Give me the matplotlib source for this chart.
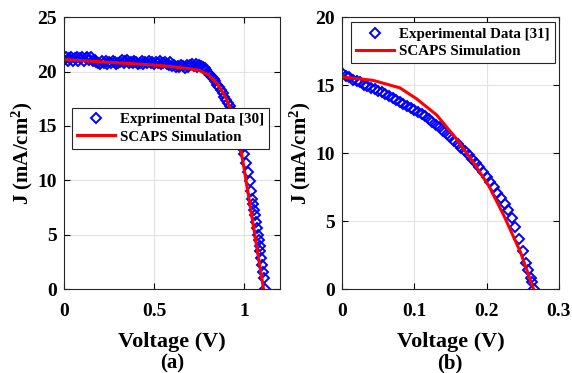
import matplotlib
matplotlib.use("Agg")
import matplotlib.pyplot as plt

plt.rcParams['font.family'] = ['Liberation Serif', 'DejaVu Serif']
plt.rcParams['font.weight'] = 'bold'
plt.rcParams['mathtext.fontset'] = 'custom'
plt.rcParams['mathtext.rm'] = 'Liberation Serif:bold'
plt.rcParams['mathtext.bf'] = 'Liberation Serif:bold'
plt.rcParams['mathtext.default'] = 'bf'

# ---- Panel (a) ----
va_exp = [0.00, 0.01, 0.02, 0.03, 0.04, 0.05, 0.06, 0.07, 0.08, 0.09,
          0.10, 0.11, 0.12, 0.13, 0.14, 0.15, 0.16, 0.17, 0.18, 0.19,
          0.20, 0.21, 0.22, 0.23, 0.24, 0.25, 0.26, 0.27, 0.28, 0.29,
          0.30, 0.31, 0.32, 0.33, 0.34, 0.35, 0.36, 0.37, 0.38, 0.39,
          0.40, 0.41, 0.42, 0.43, 0.44, 0.45, 0.46, 0.47, 0.48, 0.49,
          0.50, 0.51, 0.52, 0.53, 0.54, 0.55, 0.56, 0.57, 0.58, 0.59,
          0.60, 0.61, 0.62, 0.63, 0.64, 0.65, 0.66, 0.67, 0.68, 0.69,
          0.70, 0.71, 0.72, 0.73, 0.74, 0.75, 0.76, 0.77, 0.78, 0.79,
          0.80, 0.81, 0.82, 0.83, 0.84, 0.85, 0.86, 0.87, 0.88, 0.89,
          0.90, 0.91, 0.92, 0.93, 0.94, 0.95, 0.96, 0.97, 0.98,
          0.99, 1.00, 1.01, 1.02, 1.03, 1.04, 1.045, 1.05, 1.055, 1.06,
          1.065, 1.07, 1.075, 1.08, 1.085, 1.09, 1.095, 1.10, 1.105, 1.11, 1.117]
ja_exp = [21.1, 21.3, 21.0, 21.2, 21.3, 21.0, 21.2, 21.3, 21.0, 21.2,
          21.3, 21.0, 21.2, 21.3, 21.1, 21.3, 21.0, 21.1, 20.9, 20.8,
          20.7, 21.0, 20.8, 21.0, 20.7, 20.9, 20.8, 21.0, 20.9, 20.7,
          20.8, 20.9, 21.1, 20.8, 21.0, 21.1, 20.8, 20.9, 20.8, 21.0,
          20.9, 20.7, 20.8, 21.0, 20.7, 20.9, 20.8, 21.0, 20.8, 20.9,
          20.7, 20.9, 20.8, 21.0, 20.7, 20.8, 20.9, 20.7, 20.6, 20.9,
          20.5, 20.6, 20.4, 20.5, 20.4, 20.6, 20.5, 20.3, 20.6, 20.4,
          20.6, 20.7, 20.5, 20.7, 20.4, 20.6, 20.5, 20.4, 20.3, 20.1,
          19.9, 19.7, 19.5, 19.3, 19.1, 18.8, 18.6, 18.3, 18.0, 17.7,
          17.4, 17.1, 16.8, 16.4, 16.0, 15.5, 15.0, 14.4, 13.8,
          13.0, 12.4, 11.6, 10.8, 9.9, 9.0, 8.3, 7.8, 7.3, 6.8,
          6.2, 5.6, 5.0, 4.5, 4.0, 3.5, 2.9, 2.2, 1.6, 1.0, 0.0]
va_sim = [0.0, 0.1, 0.2, 0.3, 0.4, 0.5, 0.6, 0.7, 0.75, 0.8, 0.85, 0.88,
          0.9, 0.93, 0.95, 0.978, 1.0, 1.05, 1.107]
ja_sim = [21.1, 21.0, 20.9, 20.8, 20.7, 20.6, 20.45, 20.25, 20.1, 19.7,
          18.9, 18.1, 17.5, 16.3, 15.0, 13.1, 11.0, 5.9, 0.0]

# ---- Panel (b) ----
vb_exp = [0.000, 0.005, 0.010, 0.015, 0.020, 0.025, 0.030, 0.035, 0.040, 0.045,
          0.050, 0.055, 0.060, 0.065, 0.070, 0.075, 0.080, 0.085, 0.090, 0.095,
          0.100, 0.105, 0.110, 0.115, 0.120, 0.125, 0.130, 0.135, 0.140, 0.145,
          0.150, 0.155, 0.160, 0.165, 0.170, 0.175, 0.180, 0.185, 0.190, 0.195,
          0.200, 0.205, 0.210, 0.215, 0.220, 0.225, 0.230, 0.235, 0.240, 0.245,
          0.250, 0.255, 0.258, 0.261, 0.263, 0.265]
jb_exp = [15.9, 15.7, 15.6, 15.4, 15.3, 15.2, 15.0, 14.9, 14.8, 14.7,
          14.6, 14.5, 14.35, 14.2, 14.05, 13.9, 13.75, 13.6, 13.45, 13.3,
          13.15, 13.0, 12.85, 12.7, 12.5, 12.3, 12.1, 11.9, 11.65, 11.4,
          11.15, 10.9, 10.65, 10.4, 10.15, 9.85, 9.55, 9.25, 8.95, 8.6,
          8.25, 7.9, 7.5, 7.1, 6.7, 6.25, 5.8, 5.25, 4.6, 3.7,
          2.8, 1.9, 1.4, 0.8, 0.5, 0.0]
vb_sim = [0.0, 0.043, 0.080, 0.103, 0.131, 0.159, 0.182, 0.203, 0.224, 0.247, 0.265]
jb_sim = [15.6, 15.35, 14.8, 14.0, 12.8, 11.0, 9.3, 7.6, 5.4, 2.7, 0.0]

fig = plt.figure(figsize=(5.72, 3.73), dpi=100)
ax1 = fig.add_axes([0.112, 0.225, 0.378, 0.729])
ax2 = fig.add_axes([0.598, 0.225, 0.379, 0.729])

mk = dict(marker='D', ms=4.6, mfc='none', mec='#0000ff', mew=1.4, ls='none')

ax1.plot(va_exp, ja_exp, label='Exprimental Data [30]', **mk)
ax1.plot(va_sim, ja_sim, color='#ff0000', lw=2.2, label='SCAPS Simulation')
ax1.set_xlim(0, 1.2)
ax1.set_ylim(0, 25)
ax1.set_xticks([0, 0.5, 1])
ax1.set_xticklabels(['0', '0.5', '1'])
ax1.set_yticks([0, 5, 10, 15, 20, 25])

ax2.plot(vb_exp, jb_exp, label='Experimental Data [31]', **mk)
ax2.plot(vb_sim, jb_sim, color='#ff0000', lw=2.2, label='SCAPS Simulation')
ax2.set_xlim(0, 0.3)
ax2.set_ylim(0, 20)
ax2.set_xticks([0, 0.1, 0.2, 0.3])
ax2.set_xticklabels(['0', '0.1', '0.2', '0.3'])
ax2.set_yticks([0, 5, 10, 15, 20])

for ax in (ax1, ax2):
    ax.grid(True, color='#e3e3e3', lw=0.8)
    ax.set_axisbelow(True)
    ax.tick_params(direction='in', top=True, right=True, length=4, width=0.8,
                   labelsize=14)
    ax.tick_params(axis='x', pad=10)
    ax.tick_params(axis='y', pad=5)
    for lbl in ax.get_xticklabels() + ax.get_yticklabels():
        lbl.set_fontweight('bold')
    for s in ax.spines.values():
        s.set_linewidth(0.8)
        s.set_color('#262626')
    ax.set_xlabel('Voltage (V)', fontsize=16, fontweight='bold', labelpad=9)
    ax.set_ylabel('J (mA/cm$^{2}$)', fontsize=15, fontweight='bold', labelpad=2)

legkw = dict(prop={'weight': 'bold', 'size': 10.8}, frameon=True, fancybox=False,
             edgecolor='#262626', framealpha=1, borderpad=0.35, handlelength=2.5,
             handletextpad=0.35, labelspacing=0.25, borderaxespad=0)
leg1 = ax1.legend(loc='upper left', bbox_to_anchor=(0.037, 0.667), **legkw)
leg1.get_frame().set_linewidth(0.8)
leg2 = ax2.legend(loc='upper right', bbox_to_anchor=(0.982, 0.982), **legkw)
leg2.get_frame().set_linewidth(0.8)

fig.text(0.301, 0.026, '(a)', ha='center', va='center', fontsize=15, fontweight='bold')
fig.text(0.787, 0.026, '(b)', ha='center', va='center', fontsize=15, fontweight='bold')

fig.savefig('out.png', dpi=100)
